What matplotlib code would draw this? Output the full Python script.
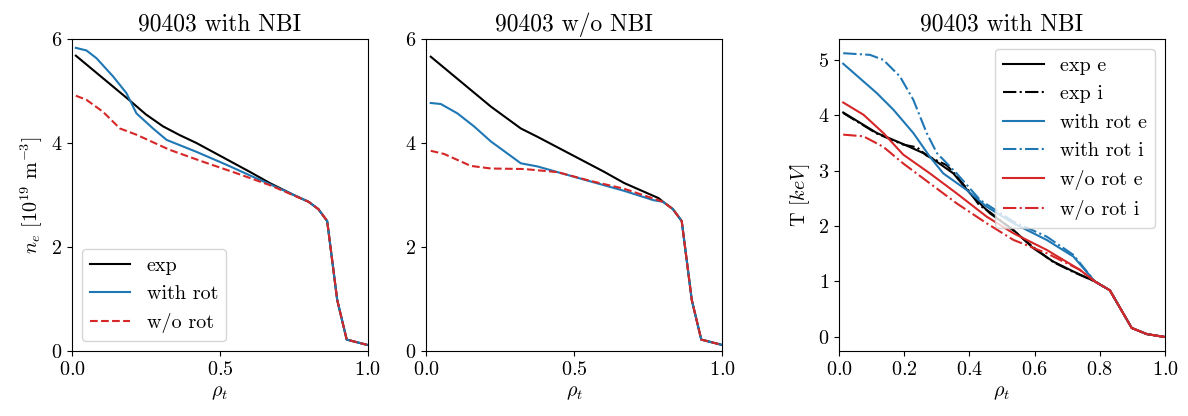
import matplotlib
matplotlib.use('Agg')
import matplotlib.pyplot as plt

plt.rcParams['font.family'] = ['cmr10']
plt.rcParams['mathtext.fontset'] = 'cm'
plt.rcParams['axes.formatter.use_mathtext'] = True
plt.rcParams['axes.unicode_minus'] = False
fs = 14.5

# ---- density, shared edge part ----
tail_rho = [0.80, 0.833, 0.863, 0.897, 0.929, 0.997]
tail_ne = [2.87, 2.73, 2.50, 0.98, 0.22, 0.12]

# with NBI
rho_exp_a = [0.013, 0.195, 0.25, 0.308, 0.365, 0.421, 0.60, 0.669, 0.75]
ne_exp_a = [5.68, 4.82, 4.55, 4.32, 4.15, 4.00, 3.45, 3.23, 3.00]
rho_rot_a = [0.013, 0.049, 0.083, 0.139, 0.184, 0.218, 0.274, 0.32, 0.421,
             0.523, 0.624, 0.72]
ne_rot_a = [5.83, 5.78, 5.63, 5.28, 4.96, 4.57, 4.28, 4.06, 3.83, 3.58,
            3.32, 3.08]
rho_norot_a = [0.013, 0.049, 0.105, 0.162, 0.218, 0.33, 0.443, 0.556, 0.669]
ne_norot_a = [4.91, 4.83, 4.60, 4.28, 4.16, 3.87, 3.64, 3.42, 3.19]

# w/o NBI
rho_exp_b = [0.016, 0.219, 0.32, 0.376, 0.60, 0.669, 0.785]
ne_exp_b = [5.66, 4.70, 4.28, 4.12, 3.45, 3.23, 2.94]
rho_rot_b = [0.016, 0.05, 0.106, 0.162, 0.219, 0.32, 0.376, 0.444, 0.556,
             0.669, 0.768]
ne_rot_b = [4.77, 4.75, 4.57, 4.32, 4.03, 3.61, 3.55, 3.44, 3.26, 3.08, 2.90]
rho_norot_b = [0.016, 0.061, 0.151, 0.219, 0.331, 0.444, 0.556, 0.669]
ne_norot_b = [3.85, 3.79, 3.56, 3.51, 3.50, 3.44, 3.27, 3.12]

# ---- temperatures ----
tail_rho_T = [0.785, 0.831, 0.898, 0.944, 0.997]
tail_T = [1.00, 0.84, 0.16, 0.05, 0.0]

rho_Te_exp = [0.013, 0.116, 0.197, 0.269, 0.351, 0.402, 0.463, 0.535, 0.596,
              0.657, 0.719]
Te_exp = [4.05, 3.68, 3.48, 3.29, 2.95, 2.59, 2.23, 1.93, 1.60, 1.36, 1.18]
rho_Ti_exp = [0.013, 0.116, 0.197, 0.24, 0.269, 0.33, 0.351, 0.40, 0.43,
              0.463, 0.535, 0.596, 0.657, 0.719]
Ti_exp = [4.04, 3.67, 3.47, 3.42, 3.27, 3.10, 2.97, 2.62, 2.38, 2.25, 1.92,
          1.62, 1.35, 1.17]

rho_Te_rot = [0.013, 0.116, 0.167, 0.228, 0.279, 0.32, 0.392, 0.453, 0.535,
              0.637, 0.719]
Te_rot = [4.93, 4.40, 4.10, 3.68, 3.25, 2.95, 2.65, 2.35, 2.05, 1.75, 1.45]
rho_Ti_rot = [0.013, 0.095, 0.136, 0.187, 0.228, 0.269, 0.30, 0.361, 0.433,
              0.535, 0.637, 0.719]
Ti_rot = [5.12, 5.09, 5.00, 4.70, 4.28, 3.68, 3.32, 2.95, 2.47, 2.08, 1.81,
          1.48]

rho_Te_norot = [0.013, 0.075, 0.136, 0.197, 0.279, 0.361, 0.453, 0.535,
                0.637, 0.739]
Te_norot = [4.23, 4.01, 3.68, 3.29, 2.95, 2.59, 2.17, 1.87, 1.57, 1.21]
rho_Ti_norot = [0.013, 0.075, 0.136, 0.197, 0.279, 0.361, 0.453, 0.535,
                0.637, 0.739]
Ti_norot = [3.65, 3.62, 3.43, 3.13, 2.77, 2.41, 2.05, 1.75, 1.51, 1.21]


fig = plt.figure(figsize=(11.88, 4.16), dpi=100)
ax0 = fig.add_axes([0.0606, 0.1562, 0.2489, 0.75])
ax1 = fig.add_axes([0.3586, 0.1562, 0.2494, 0.75])
ax2 = fig.add_axes([0.7062, 0.1562, 0.2744, 0.75])

'''density with NBI'''
ax0.plot(rho_exp_a + tail_rho, ne_exp_a + tail_ne, color='k', lw=1.5,
         label='exp')
ax0.plot(rho_rot_a + tail_rho, ne_rot_a + tail_ne, color='tab:blue', lw=1.5,
         label='with rot')
ax0.plot(rho_norot_a + tail_rho, ne_norot_a + tail_ne, color='tab:red',
         ls='--', lw=1.5, label='w/o rot')
ax0.set_title('90403 with NBI', fontsize=fs+2.5)
ax0.set_ylabel(r'$n_e$ [$10^{19}$ m$^{-3}$]', fontsize=fs)
ax0.legend(fontsize=fs, loc='lower left')

'''density w/o NBI'''
ax1.plot(rho_exp_b + tail_rho, ne_exp_b + tail_ne, color='k', lw=1.5)
ax1.plot(rho_rot_b + tail_rho, ne_rot_b + tail_ne, color='tab:blue', lw=1.5)
ax1.plot(rho_norot_b + tail_rho, ne_norot_b + tail_ne, color='tab:red',
         ls='--', lw=1.5)
ax1.set_title('90403 w/o NBI', fontsize=fs+2.5)

for ax in (ax0, ax1):
    ax.set_xlim(0, 1)
    ax.set_ylim(0, 6)
    ax.set_xticks([0, 0.5, 1.0])
    ax.set_yticks([0, 2, 4, 6])

'''temperatures'''
ax2.plot(rho_Te_exp + tail_rho_T, Te_exp + tail_T, color='k', lw=1.5,
         label='exp e')
ax2.plot(rho_Ti_exp + tail_rho_T, Ti_exp + tail_T, color='k', ls='-.',
         lw=1.5, label='exp i')
ax2.plot(rho_Te_rot + tail_rho_T, Te_rot + tail_T, color='tab:blue', lw=1.5,
         label='with rot e')
ax2.plot(rho_Ti_rot + tail_rho_T, Ti_rot + tail_T, color='tab:blue', ls='-.',
         lw=1.5, label='with rot i')
ax2.plot(rho_Te_norot + tail_rho_T, Te_norot + tail_T, color='tab:red',
         lw=1.5, label='w/o rot e')
ax2.plot(rho_Ti_norot + tail_rho_T, Ti_norot + tail_T, color='tab:red',
         ls='-.', lw=1.5, label='w/o rot i')
ax2.set_xlim(0, 1)
ax2.set_title('90403 with NBI', fontsize=fs+2.5)
ax2.set_ylabel(r'T [$keV$]', fontsize=fs)
ax2.legend(fontsize=fs, loc='upper right')

for ax in (ax0, ax1, ax2):
    ax.set_xlabel(r'$\rho_t$', fontsize=fs)
    ax.tick_params(labelsize=fs)

fig.savefig('out.png', dpi=100)
